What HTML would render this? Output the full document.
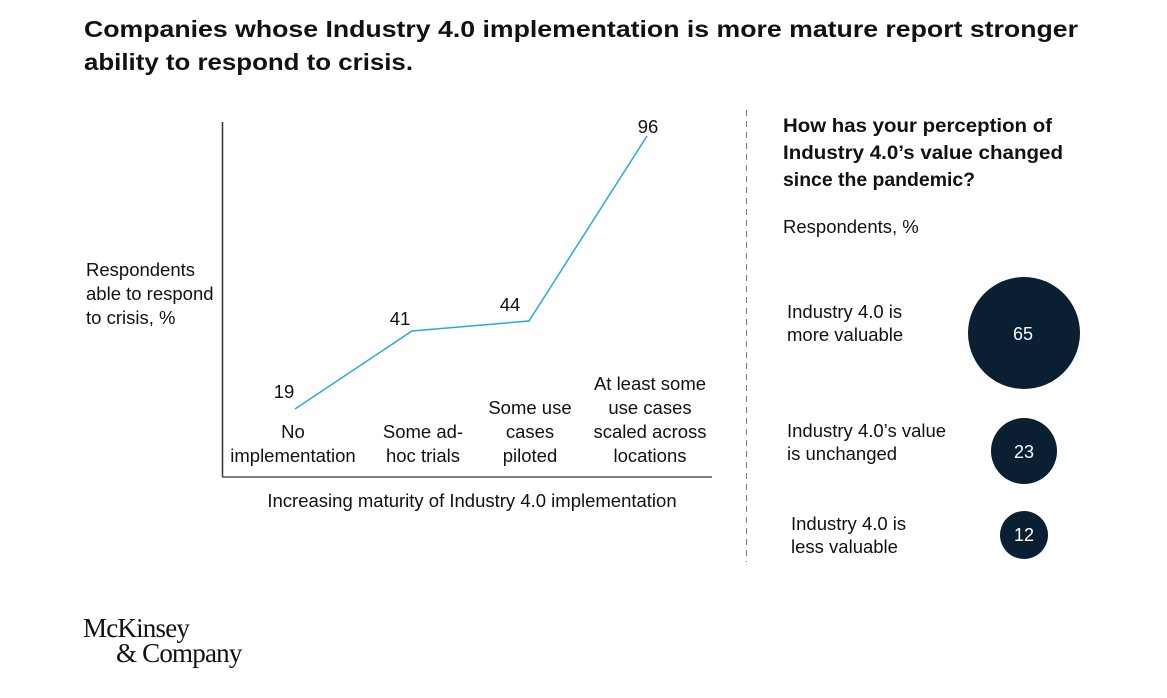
<!DOCTYPE html>
<html><head><meta charset="utf-8"><style>
body{margin:0;background:#fff;}
svg text{font-family:"Liberation Sans",Arial,sans-serif;fill:#111;}
</style></head><body>
<svg width="1167" height="693" viewBox="0 0 1167 693" xmlns="http://www.w3.org/2000/svg">
<text x="84" y="37" font-size="23.5" font-weight="bold" textLength="994" lengthAdjust="spacingAndGlyphs">Companies whose Industry 4.0 implementation is more mature report stronger</text>
<text x="84" y="70" font-size="23.5" font-weight="bold" textLength="329" lengthAdjust="spacingAndGlyphs">ability to respond to crisis.</text>

<g font-size="18.5">
<text x="86" y="276">Respondents</text>
<text x="86" y="300">able to respond</text>
<text x="86" y="324">to crisis, %</text>
</g>
<line x1="222.5" y1="122" x2="222.5" y2="477" stroke="#333" stroke-width="1.5"/>
<line x1="222" y1="477" x2="712" y2="477" stroke="#555" stroke-width="1.5"/>
<polyline points="295,409 412,331 529,321 647,136" fill="none" stroke="#29a8e0" stroke-width="1.5"/>
<g font-size="18.5" text-anchor="middle">
<text x="284" y="398">19</text>
<text x="400" y="325">41</text>
<text x="510" y="311">44</text>
<text x="648" y="133">96</text>
<text x="293" y="438">No</text>
<text x="293" y="462">implementation</text>
<text x="423" y="438">Some ad-</text>
<text x="423" y="462">hoc trials</text>
<text x="530" y="414">Some use</text>
<text x="530" y="438">cases</text>
<text x="530" y="462">piloted</text>
<text x="650" y="390">At least some</text>
<text x="650" y="414">use cases</text>
<text x="650" y="438">scaled across</text>
<text x="650" y="462">locations</text>
<text x="472" y="507">Increasing maturity of Industry 4.0 implementation</text>
</g>

<line x1="746.5" y1="110" x2="746.5" y2="562" stroke="#777" stroke-width="1" stroke-dasharray="6,5"/>

<g font-size="19.5" font-weight="bold">
<text x="783" y="132" textLength="269" lengthAdjust="spacingAndGlyphs">How has your perception of</text>
<text x="783" y="159" textLength="280" lengthAdjust="spacingAndGlyphs">Industry 4.0’s value changed</text>
<text x="783" y="186" textLength="192" lengthAdjust="spacingAndGlyphs">since the pandemic?</text>
</g>
<g font-size="18.5">
<text x="783" y="233">Respondents, %</text>
<text x="787" y="318">Industry 4.0 is</text>
<text x="787" y="341">more valuable</text>
<text x="787" y="437">Industry 4.0’s value</text>
<text x="787" y="460">is unchanged</text>
<text x="791" y="530">Industry 4.0 is</text>
<text x="791" y="553">less valuable</text>
</g>
<circle cx="1024" cy="333" r="56" fill="#0b1f32"/>
<circle cx="1024" cy="451" r="33" fill="#0b1f32"/>
<circle cx="1024" cy="535" r="24" fill="#0b1f32"/>
<g font-size="18" text-anchor="middle">
<text x="1023" y="340" style="fill:#fff">65</text>
<text x="1024" y="458" style="fill:#fff">23</text>
<text x="1024" y="541" style="fill:#fff">12</text>
</g>

<text x="83" y="637" font-size="27" style="font-family:'Liberation Serif',serif;letter-spacing:-0.8px">McKinsey</text>
<text x="116" y="662" font-size="27" style="font-family:'Liberation Serif',serif;letter-spacing:-0.8px">&amp; Company</text>
</svg>
</body></html>
